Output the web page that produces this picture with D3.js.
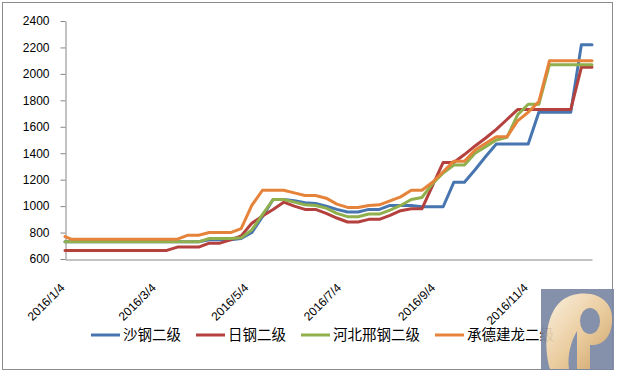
<!DOCTYPE html>
<html>
<head>
<meta charset="utf-8">
<script src="https://cdn.jsdelivr.net/npm/d3@7"></script>
<style>
  body { margin: 0; background: #fff; }
  svg { display: block; }
</style>
</head>
<body>
<div id="chart"></div>
<script>
// weekly quotes (first one on Monday 2016/1/4, then Fridays)
const dates = [
  "2016-01-04", "2016-01-08", "2016-01-15", "2016-01-22", "2016-01-29",
  "2016-02-05", "2016-02-12", "2016-02-19", "2016-02-26",
  "2016-03-04", "2016-03-11", "2016-03-18", "2016-03-25",
  "2016-04-01", "2016-04-08", "2016-04-15", "2016-04-22", "2016-04-29",
  "2016-05-06", "2016-05-13", "2016-05-20", "2016-05-27",
  "2016-06-03", "2016-06-10", "2016-06-17", "2016-06-24",
  "2016-07-01", "2016-07-08", "2016-07-15", "2016-07-22", "2016-07-29",
  "2016-08-05", "2016-08-12", "2016-08-19", "2016-08-26",
  "2016-09-02", "2016-09-09", "2016-09-16", "2016-09-23", "2016-09-30",
  "2016-10-07", "2016-10-14", "2016-10-21", "2016-10-28",
  "2016-11-04", "2016-11-11", "2016-11-18", "2016-11-25",
  "2016-12-02", "2016-12-09", "2016-12-16"
];

const seriesNames = ["沙钢二级", "日钢二级", "河北邢钢二级", "承德建龙二级"];

const shagang = [
  730, 730, 730, 730, 730, 730, 730, 730, 730, 730, 730, 730, 730, 730,
  745, 745, 745, 755, 800, 920, 1050, 1050, 1040, 1025, 1020, 1000, 975,
  955, 955, 975, 975, 1005, 1005, 1005, 995, 995, 995, 1180, 1180, 1275,
  1375, 1470, 1470, 1470, 1470, 1710, 1710, 1710, 1710, 2220, 2220
];
const rigang = [
  665, 665, 665, 665, 665, 665, 665, 665, 665, 665, 665, 690, 690, 690,
  720, 720, 745, 775, 870, 925, 975, 1030, 1000, 975, 975, 945, 910,
  880, 880, 900, 900, 930, 965, 980, 980, 1155, 1330, 1330, 1390, 1455,
  1515, 1580, 1655, 1730, 1730, 1730, 1730, 1730, 1730, 2050, 2050
];
const hebeiXinggang = [
  730, 730, 730, 730, 730, 730, 730, 730, 730, 730, 730, 730, 730, 730,
  755, 755, 755, 760, 820, 935, 1050, 1050, 1030, 1010, 1005, 985, 945,
  920, 920, 940, 940, 970, 1005, 1050, 1065, 1170, 1250, 1310, 1310, 1400,
  1450, 1500, 1520, 1690, 1770, 1770, 2070, 2070, 2070, 2070, 2070
];
const chengdeJianlong = [
  770, 750, 750, 750, 750, 750, 750, 750, 750, 750, 750, 750, 780, 780,
  800, 800, 800, 830, 1005, 1120, 1120, 1120, 1100, 1080, 1080, 1060, 1015,
  990, 990, 1005, 1010, 1040, 1070, 1120, 1120, 1180, 1260, 1340, 1340, 1425,
  1475, 1524, 1524, 1645, 1710, 1790, 2100, 2100, 2100, 2100, 2100
];

const yTicks = [600, 800, 1000, 1200, 1400, 1600, 1800, 2000, 2200, 2400];
const xTickDates = ["2016-01-04", "2016-03-04", "2016-05-04", "2016-07-04", "2016-09-04", "2016-11-04"];

const colors = ["#4675b0", "#b4413e", "#8fb04d", "#e6833a"];

const width = 618, height = 376;
const parse = d3.timeParse("%Y-%m-%d");
const fmt = d => `${d.getFullYear()}/${d.getMonth() + 1}/${d.getDate()}`;

const allSeries = [shagang, rigang, hebeiXinggang, chengdeJianlong].map((vals, i) => ({
  name: seriesNames[i],
  color: colors[i],
  values: vals.map((v, j) => ({ date: parse(dates[j]), value: v }))
}));

const svg = d3.select("#chart").append("svg")
  .attr("width", width)
  .attr("height", height);

// chart border
svg.append("rect")
  .attr("x", 2.5).attr("y", 2.5)
  .attr("width", 610).attr("height", 367)
  .attr("fill", "#fff")
  .attr("stroke", "#8c8c8c");

const x = d3.scaleTime()
  .domain([parse(dates[0]), parse(dates[dates.length - 1])])
  .range([65, 592]);

const y = d3.scaleLinear()
  .domain([600, 2400])
  .range([259, 21]);

// y axis
const yAxis = svg.append("g")
  .attr("transform", "translate(65.5,0)")
  .call(d3.axisLeft(y).tickValues(yTicks).tickSize(5).tickSizeOuter(0)
    .tickPadding(11).tickFormat(d3.format("d")));
yAxis.select(".domain").attr("stroke", "#868686");
yAxis.selectAll(".tick line").attr("stroke", "#868686");
yAxis.selectAll("text")
  .attr("font-family", "'Liberation Sans', Arial, sans-serif")
  .attr("font-size", 12)
  .attr("fill", "#000");

// x axis
const xAxis = svg.append("g")
  .attr("transform", "translate(0,259.5)")
  .call(d3.axisBottom(x).tickValues(xTickDates.map(parse)).tickSize(0).tickSizeOuter(0).tickFormat(fmt));
xAxis.select(".domain").attr("stroke", "#868686");
xAxis.selectAll("text")
  .attr("font-family", "'Liberation Sans', Arial, sans-serif")
  .attr("font-size", 12)
  .attr("fill", "#000")
  .attr("text-anchor", "end")
  .attr("dy", 0)
  .attr("y", 0)
  .attr("transform", "translate(0,29) rotate(-45)");

// lines
const line = d3.line()
  .x(d => x(d.date))
  .y(d => y(d.value));

svg.append("g")
  .selectAll("path")
  .data(allSeries)
  .join("path")
  .attr("d", d => line(d.values))
  .attr("fill", "none")
  .attr("stroke", d => d.color)
  .attr("stroke-width", 3)
  .attr("stroke-linejoin", "round")
  .attr("stroke-linecap", "round");

// legend
const legend = svg.append("g")
  .attr("font-family", "'Noto Sans CJK SC', sans-serif")
  .attr("font-size", 14.5);

let lx = 91;
allSeries.forEach(s => {
  legend.append("line")
    .attr("x1", lx).attr("x2", lx + 29)
    .attr("y1", 335).attr("y2", 335)
    .attr("stroke", s.color)
    .attr("stroke-width", 3);
  const t = legend.append("text")
    .attr("x", lx + 32)
    .attr("y", 335)
    .attr("dy", "0.35em")
    .attr("fill", "#000")
    .text(s.name);
  lx += 32 + t.node().getComputedTextLength() + 15;
});

// logo in the corner, slightly see-through like the watermark
const defs = svg.append("defs");
const grad = defs.append("linearGradient")
  .attr("id", "logoGrad")
  .attr("x1", "0").attr("y1", "0").attr("x2", "1").attr("y2", "1");
grad.append("stop").attr("offset", "0%").attr("stop-color", "#fbf0dc");
grad.append("stop").attr("offset", "55%").attr("stop-color", "#e8c795");
grad.append("stop").attr("offset", "100%").attr("stop-color", "#c99a5e");

const logo = svg.append("g").attr("opacity", 0.92);
logo.append("rect")
  .attr("x", 541).attr("y", 289)
  .attr("width", 73).attr("height", 81)
  .attr("fill", "#7b88a3");
logo.append("path")
  .attr("d", "M550,369 C543,345 544,298 578,294 C601,291 614,305 612,322 C611,339 601,346 590,345 L590,369 L577,369 L577,331 C571,341 567,356 569,369 Z")
  .attr("fill", "url(#logoGrad)");
logo.append("ellipse")
  .attr("cx", 590).attr("cy", 321)
  .attr("rx", 10).attr("ry", 13)
  .attr("fill", "#7b88a3");
</script>
</body>
</html>
